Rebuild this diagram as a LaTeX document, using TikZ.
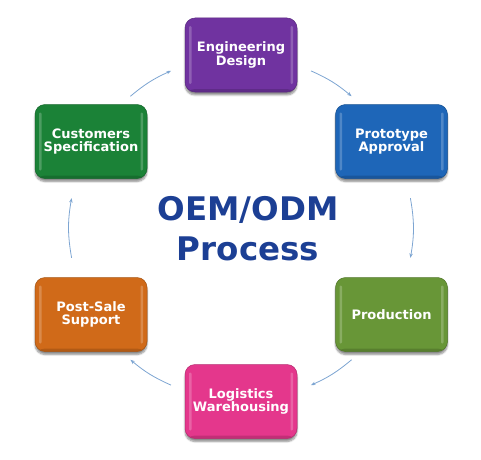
\documentclass[tikz,border=0pt]{standalone}
\usepackage{fontspec}
\newfontfamily\dv{DejaVu Sans}
\usetikzlibrary{arrows.meta,shadows.blur}
\definecolor{cEng}{HTML}{7033A0}
\definecolor{cProto}{HTML}{1E66B8}
\definecolor{cProd}{HTML}{689637}
\definecolor{cLog}{HTML}{E4378C}
\definecolor{cPost}{HTML}{D06A19}
\definecolor{cCust}{HTML}{1B8237}
\definecolor{cTitle}{HTML}{1C3F94}
\definecolor{cArrow}{HTML}{7DA5D2}
\begin{document}
\begin{tikzpicture}[x=1pt,y=1pt,
  box/.style={rounded corners=10pt, minimum width=112pt, minimum height=74pt, inner sep=2pt,
    align=center, text=white, font=\dv\bfseries\fontsize{13}{13.5}\selectfont,
    blur shadow={shadow xshift=0pt, shadow yshift=-3pt, shadow blur steps=6, shadow opacity=45}},
  bevel/.style={fill=#1, draw=#1!80!black, line width=0.5pt,
    path picture={
      \fill[white,opacity=0.22,rounded corners=1.2pt] ([xshift=4pt,yshift=-8pt]path picture bounding box.north west) rectangle ([xshift=6.5pt,yshift=8pt]path picture bounding box.south west);
      \fill[white,opacity=0.22,rounded corners=1.2pt] ([xshift=-4pt,yshift=-8pt]path picture bounding box.north east) rectangle ([xshift=-6.5pt,yshift=8pt]path picture bounding box.south east);
      \fill[black,opacity=0.15] (path picture bounding box.south west) rectangle ([yshift=3pt]path picture bounding box.south east);
    }},
  flow/.style={draw=cArrow, line width=0.8pt, -{Stealth[length=4.5pt,width=3.5pt]}},
  title/.style={align=center, text=cTitle, font=\dv\bfseries\fontsize{32.5}{40}\selectfont, inner sep=0pt}
]
\useasboundingbox (0,0) rectangle (481,459);

\node[box,bevel=cEng]   (eng)   at (241,404)     {Engineering\\Design};
\node[box,bevel=cProto] (proto) at (391.5,317.5) {Prototype\\Approval};
\node[box,bevel=cProd]  (prod)  at (391.5,144.5) {Production};
\node[box,bevel=cLog]   (log)   at (241,57.5)    {Logistics\\Warehousing};
\node[box,bevel=cPost]  (post)  at (91,144.5)    {Post-Sale\\Support};
\node[box,bevel=cCust]  (cust)  at (91,317.5)    {Customers\\Specification};

\node[title] (ttl) at (248,230) {OEM/ODM\\Process};

\coordinate (O) at (241,231);
\coordinate (s1) at ([shift={(O)}]130:172);
\coordinate (e1) at ([shift={(O)}]114:172);
\coordinate (s2) at ([shift={(O)}]66:172);
\coordinate (e2) at ([shift={(O)}]50:172);
\coordinate (s3) at ([shift={(O)}]10:172);
\coordinate (e3) at ([shift={(O)}]-10:172);
\coordinate (s4) at ([shift={(O)}]-50:172);
\coordinate (e4) at ([shift={(O)}]-66:172);
\coordinate (s5) at ([shift={(O)}]-114:172);
\coordinate (e5) at ([shift={(O)}]-130:172);
\coordinate (s6) at ([shift={(O)}]190:172);
\coordinate (e6) at ([shift={(O)}]170:172);

\draw[flow] (s1) to[bend left=8] (e1);
\draw[flow] (s2) to[bend left=8] (e2);
\draw[flow] (s3) to[bend left=10] (e3);
\draw[flow] (s4) to[bend left=8] (e4);
\draw[flow] (s5) to[bend left=8] (e5);
\draw[flow] (s6) to[bend left=10] (e6);
\end{tikzpicture}
\end{document}
